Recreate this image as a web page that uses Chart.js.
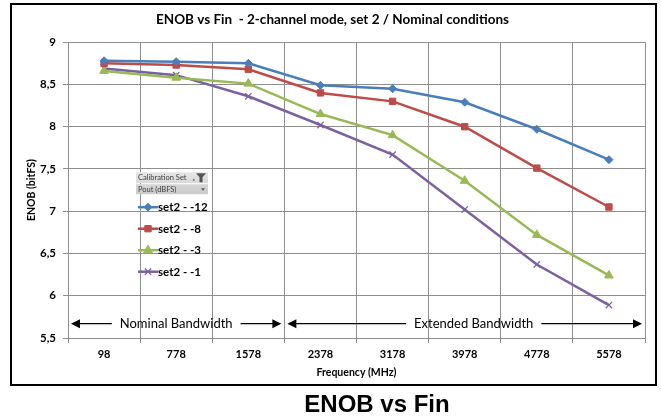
<!DOCTYPE html>
<html>
<head>
<meta charset="utf-8">
<script src="https://cdn.jsdelivr.net/npm/chart.js@4.4.1/dist/chart.umd.min.js"></script>
<style>
    html, body { margin: 0; padding: 0; background: #fff; }
    #wrap { position: relative; width: 661px; height: 419px; }
</style>
</head>
<body>
<div id="wrap"><canvas id="enobChart" width="661" height="419"></canvas></div>
<script>
// Frequency categories (MHz)
const freqLabels = ['98', '778', '1578', '2378', '3178', '3978', '4778', '5578'];

// ENOB per calibration set / Pout (dBFS)
const set2m12 = [8.78, 8.77, 8.75, 8.49, 8.45, 8.29, 7.97, 7.61];
const set2m8  = [8.75, 8.73, 8.68, 8.40, 8.30, 8.00, 7.51, 7.05];
const set2m3  = [8.66, 8.58, 8.51, 8.15, 7.90, 7.36, 6.72, 6.24];
const set2m1  = [8.69, 8.61, 8.36, 8.02, 7.67, 7.02, 6.37, 5.89];

const seriesNames = ['set2 - -12', 'set2 - -8', 'set2 - -3', 'set2 - -1'];

// bandwidth annotation: label, start index, end index (category units), y value
const bandNames = ['Nominal Bandwidth', 'Extended Bandwidth'];
const bandFrom = [-0.5, 2.5];
const bandTo = [2.5, 7.5];
const bandY = 5.67;

const FONT = 'Lato, "Open Sans", "Liberation Sans", sans-serif';

function arrowHead(ctx, x, y, dir) {
    ctx.beginPath();
    ctx.moveTo(x, y);
    ctx.lineTo(x - dir * 9, y - 4.5);
    ctx.lineTo(x - dir * 9, y + 4.5);
    ctx.closePath();
    ctx.fill();
}

// frame, bandwidth arrows, pivot legend, caption
const decorations = {
    id: 'decorations',
    beforeDraw(chart) {
        const ctx = chart.ctx;
        ctx.save();
        ctx.fillStyle = '#fff';
        ctx.fillRect(0, 0, chart.width, chart.height);
        ctx.restore();
    },
    afterDatasetsDraw(chart) {
        const ctx = chart.ctx;
        const xs = chart.scales.x;
        const ys = chart.scales.y;
        const yy = ys.getPixelForValue(bandY);

        ctx.save();
        ctx.font = '13px ' + FONT;
        ctx.fillStyle = '#000';
        ctx.strokeStyle = '#000';
        ctx.lineWidth = 1.2;
        ctx.textBaseline = 'middle';
        ctx.textAlign = 'center';
        for (let i = 0; i < bandNames.length; i++) {
            const x0 = xs.getPixelForValue(bandFrom[i]) + 3;
            const x1 = xs.getPixelForValue(bandTo[i]) - 3;
            const cx = (x0 + x1) / 2 + (i === 1 ? 9 : 0);
            const w = ctx.measureText(bandNames[i]).width;
            ctx.fillText(bandNames[i], cx, yy);
            ctx.beginPath();
            ctx.moveTo(x0 + 6, yy);
            ctx.lineTo(cx - w / 2 - 8, yy);
            ctx.moveTo(cx + w / 2 + 8, yy);
            ctx.lineTo(x1 - 6, yy);
            ctx.stroke();
            arrowHead(ctx, x0, yy, -1);
            arrowHead(ctx, x1, yy, 1);
        }
        ctx.restore();
    },
    afterDraw(chart) {
        const ctx = chart.ctx;
        const ca = chart.chartArea;
        ctx.save();

        // outer frame of the chart
        ctx.strokeStyle = '#000';
        ctx.lineWidth = 2;
        ctx.strokeRect(11, 4, 645, 381);

        // pivot field buttons
        const bx = ca.left + 68, by = ca.top + 130, bw = 72;
        const grad = ctx.createLinearGradient(0, by, 0, by + 23);
        grad.addColorStop(0, '#e6e6e6');
        grad.addColorStop(1, '#c9c9c9');
        ctx.fillStyle = grad;
        ctx.fillRect(bx, by, bw, 11);
        ctx.fillRect(bx, by + 12, bw, 10);
        ctx.fillStyle = '#404040';
        ctx.font = '7.5px ' + FONT;
        ctx.textBaseline = 'middle';
        ctx.textAlign = 'left';
        ctx.fillText('Calibration Set', bx + 2, by + 5.5);
        ctx.fillText('Pout (dBFS)', bx + 2, by + 17);
        // funnel icon
        ctx.fillStyle = '#555';
        ctx.beginPath();
        ctx.moveTo(bx + bw - 12, by + 1);
        ctx.lineTo(bx + bw - 2, by + 1);
        ctx.lineTo(bx + bw - 5.5, by + 5);
        ctx.lineTo(bx + bw - 5.5, by + 10);
        ctx.lineTo(bx + bw - 8.5, by + 10);
        ctx.lineTo(bx + bw - 8.5, by + 5);
        ctx.closePath();
        ctx.fill();
        ctx.fillRect(bx + bw - 15, by + 7, 1.5, 1.5);
        // dropdown arrow
        ctx.beginPath();
        ctx.moveTo(bx + bw - 7, by + 16);
        ctx.lineTo(bx + bw - 3, by + 16);
        ctx.lineTo(bx + bw - 5, by + 18.5);
        ctx.closePath();
        ctx.fill();

        // legend entries
        const lx = bx + 2, ly = by + 35;
        chart.data.datasets.forEach((ds, i) => {
            const y = ly + i * 21.5;
            ctx.strokeStyle = ds.borderColor;
            ctx.lineWidth = 2.5;
            ctx.beginPath();
            ctx.moveTo(lx, y);
            ctx.lineTo(lx + 20, y);
            ctx.stroke();
            if (Chart.helpers && Chart.helpers.drawPoint) {
                ctx.fillStyle = ds.pointBackgroundColor;
                ctx.strokeStyle = ds.pointBorderColor;
                ctx.lineWidth = ds.pointBorderWidth;
                Chart.helpers.drawPoint(ctx, {
                    pointStyle: ds.pointStyle,
                    radius: ds.pointRadius,
                    rotation: 0,
                    borderWidth: ds.pointBorderWidth
                }, lx + 10, y);
            }
            ctx.fillStyle = '#000';
            ctx.font = 'bold 11.5px ' + FONT;
            ctx.textAlign = 'left';
            ctx.fillText(ds.label, lx + 20, y + 0.5);
        });

        // caption under the chart
        ctx.fillStyle = '#000';
        ctx.font = 'bold 24px "Liberation Sans", Arial, sans-serif';
        ctx.textAlign = 'center';
        ctx.textBaseline = 'alphabetic';
        ctx.fillText('ENOB vs Fin', 377, 412);
        ctx.restore();
    }
};

function series(label, data, color, style, radius) {
    return {
        label: label,
        data: data,
        borderColor: color,
        backgroundColor: color,
        borderWidth: 2.5,
        pointStyle: style,
        pointRadius: radius,
        pointHoverRadius: radius,
        pointBackgroundColor: color,
        pointBorderColor: color,
        pointBorderWidth: style === 'crossRot' ? 1.3 : 1,
        tension: 0
    };
}

const gridColor = '#8e8e8e';

new Chart(document.getElementById('enobChart').getContext('2d'), {
    type: 'line',
    data: {
        labels: freqLabels,
        datasets: [
            series(seriesNames[0], set2m12, '#4a7ebb', 'rectRot', 4),
            series(seriesNames[1], set2m8, '#be4b48', 'rect', 4.5),
            series(seriesNames[2], set2m3, '#98b954', 'triangle', 5),
            series(seriesNames[3], set2m1, '#7d60a0', 'crossRot', 4.5)
        ]
    },
    options: {
        responsive: false,
        animation: false,
        devicePixelRatio: 1,
        layout: { padding: { left: 20, right: 16, top: 0, bottom: 34 } },
        plugins: {
            legend: { display: false },
            tooltip: { enabled: false },
            title: {
                display: true,
                text: 'ENOB vs Fin  - 2-channel mode, set 2 / Nominal conditions',
                color: '#000',
                font: { family: FONT, size: 13.5, weight: 'bold' },
                padding: { top: 12, bottom: 14 }
            }
        },
        scales: {
            x: {
                type: 'category',
                offset: true,
                afterFit: (s) => { s.height = 47; },
                grid: { offset: true, color: gridColor, tickLength: 5, lineWidth: 1 },
                border: { color: gridColor },
                ticks: { color: '#000', padding: 5, maxRotation: 0, font: { family: FONT, size: 11, weight: 'bold' } },
                title: {
                    display: true,
                    text: 'Frequency (MHz)',
                    color: '#000',
                    font: { family: FONT, size: 10.5, weight: 'bold' },
                    padding: { top: 2, bottom: 6 }
                }
            },
            y: {
                min: 5.5,
                max: 9,
                afterFit: (s) => { s.width = 48; },
                grid: { color: gridColor, tickLength: 5, lineWidth: 1 },
                border: { color: gridColor },
                ticks: {
                    stepSize: 0.5,
                    color: '#000',
                    padding: 7,
                    font: { family: FONT, size: 11.5, weight: 'bold' },
                    callback: (v) => String(v).replace('.', ',')
                },
                title: {
                    display: true,
                    text: 'ENOB (bitFS)',
                    color: '#000',
                    font: { family: FONT, size: 10.5, weight: 'bold' },
                    padding: { top: 5, bottom: 2 }
                }
            }
        }
    },
    plugins: [decorations]
});
</script>
</body>
</html>
